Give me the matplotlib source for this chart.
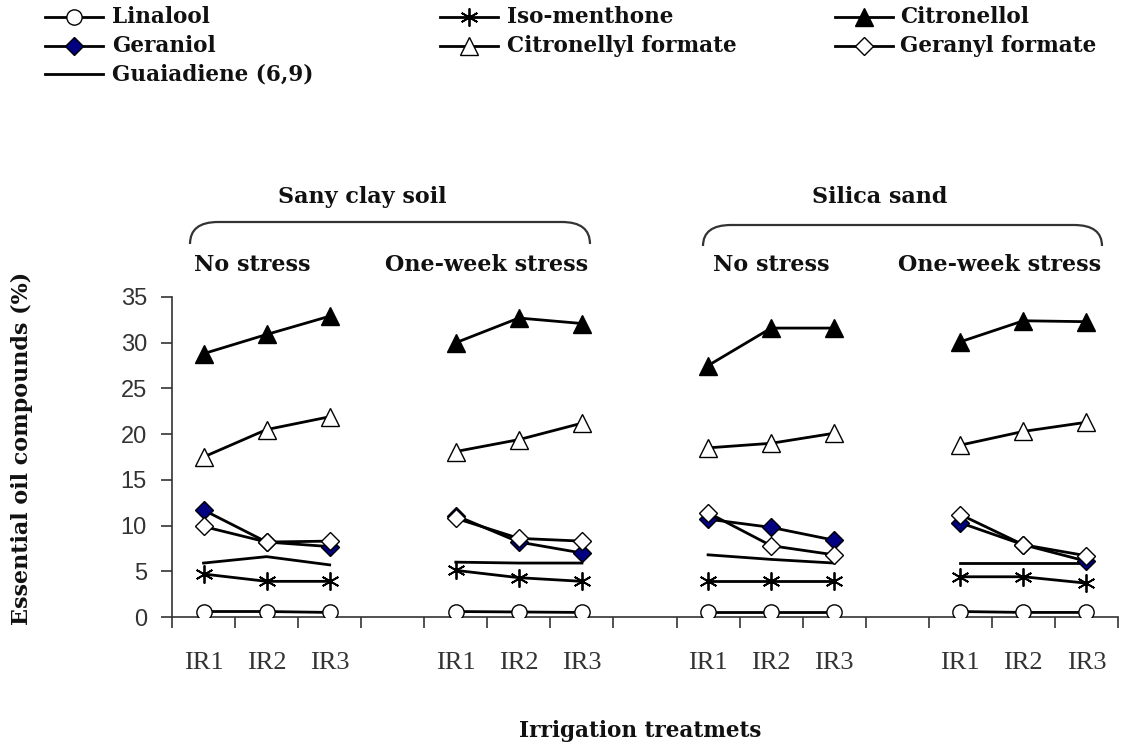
import numpy as np
import matplotlib
matplotlib.use("Agg")
import matplotlib.pyplot as plt
from matplotlib.lines import Line2D
from matplotlib.patches import PathPatch
from matplotlib.path import Path

W, H = 1122, 746
BOLD = dict(family="DejaVu Serif", fontweight="bold", color="#111111")

# ---------------------------------------------------------------- data
irrigation = ["IR1", "IR2", "IR3"]
stress_groups = ["No stress", "One-week stress", "No stress", "One-week stress"]
soils = ["Sany clay soil", "Silica sand"]

# 4 groups x [IR1, IR2, IR3]
linalool = [0.6, 0.6, 0.5, 0.6, 0.55, 0.5, 0.5, 0.5, 0.5, 0.6, 0.5, 0.5]
iso_menthone = [4.7, 3.9, 3.9, 5.1, 4.3, 3.9, 3.9, 3.9, 3.9, 4.4, 4.4, 3.7]
citronellol = [28.8, 30.9, 32.9, 30.0, 32.7, 32.1, 27.5, 31.6, 31.6, 30.1, 32.4, 32.3]
geraniol = [11.7, 8.2, 7.7, 11.1, 8.2, 7.0, 10.7, 9.8, 8.4, 10.3, 7.9, 6.1]
citronellyl_formate = [17.5, 20.5, 21.9, 18.1, 19.4, 21.2, 18.5, 19.0, 20.1, 18.8, 20.3, 21.3]
geranyl_formate = [9.9, 8.2, 8.3, 10.8, 8.6, 8.3, 11.4, 7.8, 6.8, 11.2, 7.9, 6.7]
guaiadiene = [5.9, 6.6, 5.7, 6.0, 5.9, 5.9, 6.8, 6.3, 5.9, 5.9, 5.9, 5.9]

ASTER = (6, 2, 0)
series = [
    ("Guaiadiene (6,9)", guaiadiene, dict(marker="None")),
    ("Linalool", linalool, dict(marker="o", ms=11, mfc="white", mec="black")),
    ("Iso-menthone", iso_menthone, dict(marker=ASTER, ms=13, mec="black", mew=1.3)),
    ("Citronellyl formate", citronellyl_formate, dict(marker="^", ms=13, mfc="white", mec="black")),
    ("Citronellol", citronellol, dict(marker="^", ms=13, mfc="black", mec="black")),
    ("Geraniol", geraniol, dict(marker="D", ms=9, mfc="#000080", mec="black")),
    ("Geranyl formate", geranyl_formate, dict(marker="D", ms=9, mfc="white", mec="black")),
]


def fx(x):
    return x / W


def fy(y):
    return 1 - y / H


fig = plt.figure(figsize=(W / 100, H / 100), dpi=100)
ax = fig.add_axes([fx(172), fy(617), (1118 - 172) / W, 320 / H])

for name, vals, st in series:
    for g in range(4):
        xs = [g * 4 + i for i in range(3)]
        ax.plot(xs, vals[g * 3:g * 3 + 3], color="black", lw=2, zorder=3, **st)

ax.set_xlim(-0.5, 14.5)
ax.set_ylim(0, 35)
ax.set_yticks(np.arange(0, 36, 5))
ax.set_yticklabels([str(v) for v in range(0, 36, 5)], family="Liberation Sans",
                   fontsize=17, color="#333333")
ax.tick_params(axis="y", length=8, width=1.2, pad=10, color="#333333")
ax.set_xticks(np.arange(-0.5, 15, 1))
ax.set_xticklabels([])
ax.tick_params(axis="x", which="major", length=8, width=1.2, color="#333333")
lab_pos = [g * 4 + i for g in range(4) for i in range(3)]
ax.set_xticks(lab_pos, minor=True)
ax.set_xticklabels(irrigation * 4, minor=True, family="Liberation Serif",
                   fontsize=19, color="#333333")
ax.tick_params(axis="x", which="minor", length=0, pad=25)
for s in ["top", "right"]:
    ax.spines[s].set_visible(False)
for s in ["left", "bottom"]:
    ax.spines[s].set_linewidth(1.2)
    ax.spines[s].set_color("#333333")

# axis titles
fig.text(fx(22), fy(448), "Essential oil compounds (%)", rotation=90,
         ha="center", va="center", fontsize=16, **BOLD)
fig.text(fx(640), fy(731), "Irrigation treatmets", ha="center", va="center",
         fontsize=15.5, **BOLD)

# group headers
for xc, lab in zip([252, 487, 771, 1000], stress_groups):
    fig.text(fx(xc), fy(265), lab, ha="center", va="center", fontsize=16, **BOLD)
for xc, lab in zip([362, 880], soils):
    fig.text(fx(xc), fy(197), lab, ha="center", va="center", fontsize=16, **BOLD)

# curly brackets above the soils
for x0, x1, yt, yb in [(190, 590, 222, 244), (703, 1102, 225, 246)]:
    r = 28
    verts = [(x0, yb), (x0, yt), (x0 + r, yt), (x1 - r, yt), (x1, yt), (x1, yb)]
    codes = [Path.MOVETO, Path.CURVE3, Path.CURVE3, Path.LINETO, Path.CURVE3, Path.CURVE3]
    p = Path([(fx(a), fy(b)) for a, b in verts], codes)
    fig.add_artist(PathPatch(p, transform=fig.transFigure, fill=False,
                             lw=1.6, edgecolor="#333333"))

# legend, laid out row by row like the original
style_of = {name: st for name, vals, st in series}
legend_rows = [
    ["Linalool", "Iso-menthone", "Citronellol"],
    ["Geraniol", "Citronellyl formate", "Geranyl formate"],
    ["Guaiadiene (6,9)"],
]
col_x = [(45, 103, 112), (440, 498, 507), (835, 893, 900)]
row_y = [17, 46, 74]
for ri, row in enumerate(legend_rows):
    for ci, name in enumerate(row):
        h0, h1, tx = col_x[ci]
        y = row_y[ri]
        st = dict(style_of[name])
        ln = Line2D([fx(h0), fx((h0 + h1) / 2), fx(h1)], [fy(y)] * 3,
                    transform=fig.transFigure, color="black", lw=2,
                    markevery=[1], **st)
        fig.add_artist(ln)
        fig.text(fx(tx), fy(y), name, ha="left", va="center", fontsize=15.5, **BOLD)

fig.savefig("out.png", dpi=100)
